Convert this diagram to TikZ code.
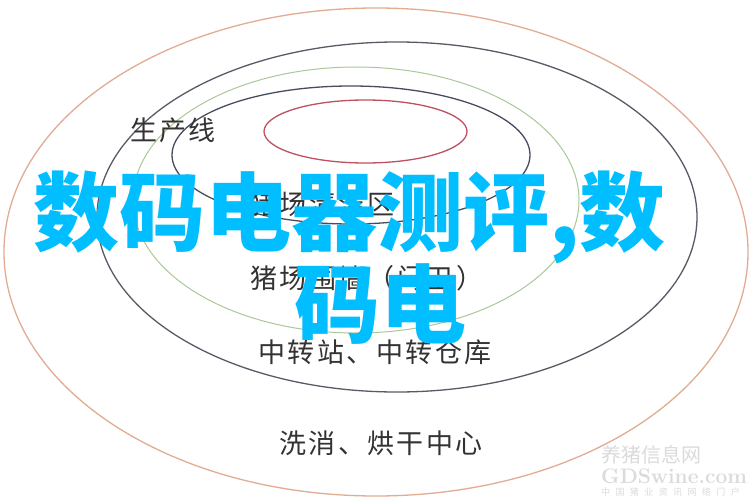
\documentclass[tikz,border=0pt]{standalone}
\usepackage{fontspec}
\newfontfamily\cjk{Noto Sans CJK SC}
\newfontfamily\cjkzone{Noto Sans CJK SC}[LetterSpace=9]
\newfontfamily\cjkwide{Noto Sans CJK SC}[LetterSpace=60]
\usetikzlibrary{shapes.geometric,positioning}

\definecolor{ringtan}{RGB}{226,172,146}
\definecolor{ringgray}{RGB}{88,90,102}
\definecolor{ringgreen}{RGB}{170,200,152}
\definecolor{ringnavy}{RGB}{72,76,96}
\definecolor{ringred}{RGB}{190,80,96}
\definecolor{headcyan}{RGB}{0,190,255}

\begin{document}
\begin{tikzpicture}[
    x=1pt, y=-1pt,
    every node/.style={inner sep=0pt},
    ring/.style={ellipse, draw=#1, line width=1.3pt, inner sep=0pt},
    zonetext/.style={text=black!80, font=\cjkzone\fontsize{27}{27}\selectfont},
    headline/.style={text=headcyan, font=\cjk\bfseries\fontsize{86}{86}\selectfont},
    wmtext/.style={text=black!14}
]
\useasboundingbox[fill=white] (0,0) rectangle (755,503);

% ANILLOS
\node[ring=ringtan, minimum width=744pt, minimum height=488pt] (outer) at (376,252) {};
\node[ring=ringgray, minimum width=600pt, minimum height=350pt] (fence) at (397,217) {};
\node[ring=ringgreen, line width=1pt, minimum width=446pt, minimum height=266pt] (wall) at (356,200) {};
\node[ring=ringnavy, minimum width=358pt, minimum height=138pt] (clean) at (351,155) {};
\node[ring=ringred, minimum width=203pt, minimum height=63pt] (line) at (365.5,131.5) {};

% ETIQUETAS
\node[zonetext] (linetxt) at (173,130) {生产线};
\node[zonetext, anchor=west] (cleantxt) at (250,204) {猪场清洁区};
\node[zonetext, anchor=west] (walltxt) at (250,278) {猪场围墙（门卫）};
\node[zonetext] (fencetxt) at (375,352) {中转站、中转仓库};
\node[zonetext] (outertxt) at (381,443) {洗消、烘干中心};

% TITULO
\node[headline, anchor=west] (head) at (33,217) {数码电器测评,数};
\node[headline] (headtail) at (380,304) {码电};

% MARCA DE AGUA
\node[wmtext, font=\cjk\fontsize{20}{20}\selectfont, anchor=west] (wmname) at (601,455) {养猪信息网};
\node[wmtext, font=\bfseries\fontsize{21}{21}\selectfont, below=4pt of wmname.south west, anchor=north west] (wmsite) {GDSwine.com};
\node[wmtext, font=\cjkwide\fontsize{9}{9}\selectfont, below=4pt of wmsite.south west, anchor=north west] (wmtag) {中国猪业资讯网络门户};

\end{tikzpicture}
\end{document}
